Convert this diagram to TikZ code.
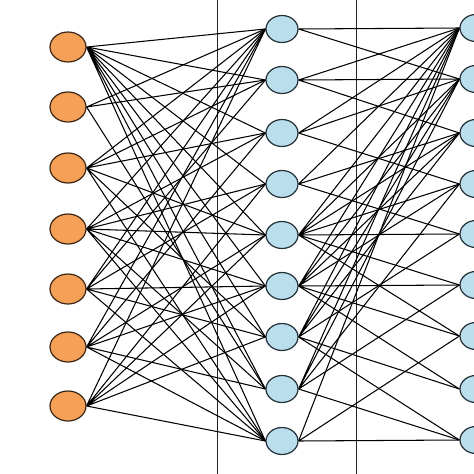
\documentclass[tikz,border=0pt]{standalone}
\usetikzlibrary{shapes.geometric}
\definecolor{inorange}{RGB}{244,160,86}
\definecolor{hidblue}{RGB}{186,222,236}
\definecolor{rimbrown}{RGB}{60,38,20}
\definecolor{rimgrey}{RGB}{35,48,55}
\tikzset{
  inunit/.style={ellipse, draw=rimbrown, fill=inorange, line width=1.2pt,
    minimum width=36pt, minimum height=30pt, inner sep=0pt},
  hidunit/.style={ellipse, draw=rimgrey, fill=hidblue, line width=1.2pt,
    minimum width=32pt, minimum height=27pt, inner sep=0pt},
  link/.style={black, line width=1.05pt}
}
\begin{document}
\begin{tikzpicture}[x=1pt, y=-1pt]

            \useasboundingbox (0,0) rectangle (474,474);

            \draw[line width=1pt, black!85] (217,0) -- (217,474);
            \draw[line width=1pt, black!85] (356,0) -- (356,474);

            \node[inunit] (in1) at (68,47)  {};
            \node[inunit] (in2) at (68,107) {};
            \node[inunit] (in3) at (68,168) {};
            \node[inunit] (in4) at (68,229) {};
            \node[inunit] (in5) at (68,289) {};
            \node[inunit] (in6) at (68,347) {};
            \node[inunit] (in7) at (68,406) {};

            \node[hidunit] (hid1) at (282,29)  {};
            \node[hidunit] (hid2) at (282,80)  {};
            \node[hidunit] (hid3) at (282,133) {};
            \node[hidunit] (hid4) at (282,184) {};
            \node[hidunit] (hid5) at (282,235) {};
            \node[hidunit] (hid6) at (282,286) {};
            \node[hidunit] (hid7) at (282,337) {};
            \node[hidunit] (hid8) at (282,389) {};
            \node[hidunit] (hid9) at (282,441) {};

            \node[hidunit] (out1) at (476,28)  {};
            \node[hidunit] (out2) at (476,79)  {};
            \node[hidunit] (out3) at (476,133) {};
            \node[hidunit] (out4) at (476,184) {};
            \node[hidunit] (out5) at (476,234) {};
            \node[hidunit] (out6) at (476,285) {};
            \node[hidunit] (out7) at (476,336) {};
            \node[hidunit] (out8) at (476,389) {};
            \node[hidunit] (out9) at (476,440) {};

            % input -> hidden
            \draw[link] (in1.east) -- (hid1.west) (in1.east) -- (hid2.west) (in1.east) -- (hid3.west)
                        (in1.east) -- (hid4.west) (in1.east) -- (hid5.west) (in1.east) -- (hid6.west)
                        (in1.east) -- (hid7.west) (in1.east) -- (hid8.west) (in1.east) -- (hid9.west);
            \draw[link] (in2.east) -- (hid1.west) (in2.east) -- (hid2.west) (in2.east) -- (hid8.west);
            \draw[link] (in3.east) -- (hid1.west) (in3.east) -- (hid2.west) (in3.east) -- (hid3.west)
                        (in3.east) -- (hid5.west) (in3.east) -- (hid7.west) (in3.east) -- (hid9.west);
            \draw[link] (in4.east) -- (hid1.west) (in4.east) -- (hid3.west) (in4.east) -- (hid4.west)
                        (in4.east) -- (hid5.west) (in4.east) -- (hid6.west) (in4.east) -- (hid8.west)
                        (in4.east) -- (hid9.west);
            \draw[link] (in5.east) -- (hid1.west) (in5.east) -- (hid2.west) (in5.east) -- (hid4.west)
                        (in5.east) -- (hid6.west) (in5.east) -- (hid7.west) (in5.east) -- (hid9.west);
            \draw[link] (in6.east) -- (hid1.west) (in6.east) -- (hid3.west) (in6.east) -- (hid5.west)
                        (in6.east) -- (hid6.west) (in6.east) -- (hid8.west) (in6.east) -- (hid9.west);
            \draw[link] (in7.east) -- (hid1.west) (in7.east) -- (hid4.west) (in7.east) -- (hid5.west)
                        (in7.east) -- (hid6.west) (in7.east) -- (hid7.west) (in7.east) -- (hid9.west);

            % hidden -> output
            \draw[link] (hid1.east) -- (out1.west) (hid1.east) -- (out2.west);
            \draw[link] (hid2.east) -- (out1.west) (hid2.east) -- (out2.west) (hid2.east) -- (out3.west);
            \draw[link] (hid3.east) -- (out1.west) (hid3.east) -- (out2.west) (hid3.east) -- (out4.west);
            \draw[link] (hid4.east) -- (out1.west) (hid4.east) -- (out3.west) (hid4.east) -- (out5.west);
            \draw[link] (hid5.east) -- (out1.west) (hid5.east) -- (out2.west) (hid5.east) -- (out3.west)
                        (hid5.east) -- (out4.west) (hid5.east) -- (out5.west) (hid5.east) -- (out6.west)
                        (hid5.east) -- (out7.west);
            \draw[link] (hid6.east) -- (out1.west) (hid6.east) -- (out2.west) (hid6.east) -- (out3.west)
                        (hid6.east) -- (out4.west) (hid6.east) -- (out6.west) (hid6.east) -- (out7.west)
                        (hid6.east) -- (out8.west);
            \draw[link] (hid7.east) -- (out1.west) (hid7.east) -- (out2.west) (hid7.east) -- (out3.west)
                        (hid7.east) -- (out5.west) (hid7.east) -- (out8.west) (hid7.east) -- (out9.west);
            \draw[link] (hid8.east) -- (out1.west) (hid8.east) -- (out2.west) (hid8.east) -- (out4.west)
                        (hid8.east) -- (out6.west) (hid8.east) -- (out9.west);
            \draw[link] (hid9.east) -- (out1.west) (hid9.east) -- (out7.west) (hid9.east) -- (out9.west);

        \end{tikzpicture}
\end{document}
